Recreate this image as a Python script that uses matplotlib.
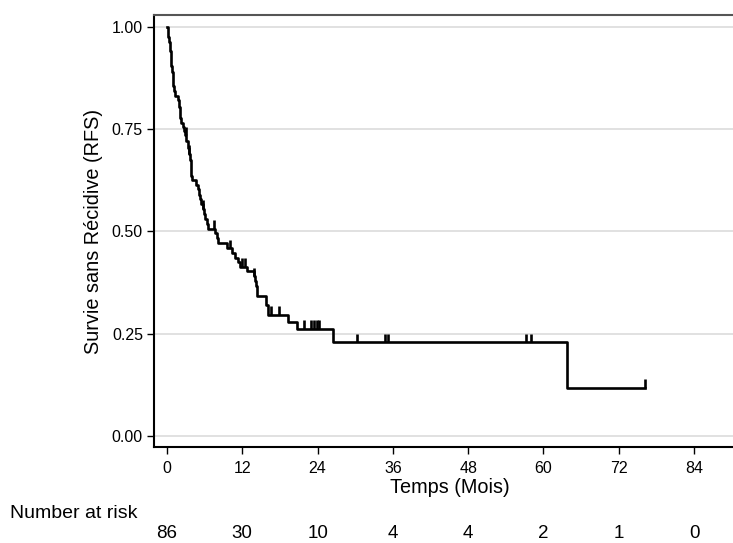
import matplotlib
matplotlib.use("Agg")
import matplotlib.pyplot as plt
import matplotlib.transforms as mtransforms

plt.rcParams['font.family'] = ['Liberation Sans', 'DejaVu Sans']

# Kaplan-Meier step curve (time in months, survival after that time)
step_times = [0, 0.2, 0.35, 0.5, 0.6, 0.7, 0.8, 0.9, 1.0, 1.1, 1.25, 1.7, 1.85, 2.0,
              2.15, 2.3, 2.5, 2.7, 2.9, 3.1, 3.3, 3.45, 3.6, 3.75, 3.9, 4.0, 4.7, 4.9,
              5.1, 5.3, 5.5, 5.7, 5.9, 6.1, 6.4, 6.6, 7.6, 7.9, 8.2, 9.6, 10.3, 10.8,
              11.3, 11.7, 12.8, 13.9, 14.1, 14.2, 14.3, 14.4, 15.8, 16.1, 19.3, 20.8,
              26.5, 63.7, 76.2]
step_surv = [1.0, 0.975, 0.963, 0.94, 0.925, 0.905, 0.89, 0.87, 0.855, 0.843, 0.83, 0.82,
             0.805, 0.79, 0.778, 0.765, 0.755, 0.745, 0.735, 0.72, 0.705, 0.69, 0.675,
             0.655, 0.635, 0.626, 0.614, 0.603, 0.59, 0.578, 0.566, 0.555, 0.543, 0.531,
             0.519, 0.507, 0.495, 0.483, 0.471, 0.459, 0.447, 0.435, 0.424, 0.414, 0.402,
             0.39, 0.378, 0.366, 0.354, 0.342, 0.32, 0.296, 0.278, 0.262, 0.229, 0.117,
             0.117]

# censored observation times
censor_times = [3.0, 3.5, 5.8, 7.5, 10.0, 11.9, 12.4, 13.9, 16.6, 17.9, 21.8, 22.9,
                23.5, 23.9, 24.3, 30.3, 34.8, 35.2, 57.3, 58.0, 76.2]

# number at risk table
risk_times = [0, 12, 24, 36, 48, 60, 72, 84]
risk_counts = [86, 30, 10, 4, 4, 2, 1, 0]

y_ticks = [0.0, 0.25, 0.5, 0.75, 1.0]
y_ticklabels = ["0.00", "0.25", "0.50", "0.75", "1.00"]


def surv_at(t):
    s = step_surv[0]
    for tt, ss in zip(step_times, step_surv):
        if tt <= t:
            s = ss
        else:
            break
    return s


W, H = 733, 543
fig = plt.figure(figsize=(W / 100, H / 100), dpi=100)
ax = fig.add_axes([154 / W, (H - 447) / H, (745 - 154) / W, (447 - 15) / H])

ax.set_xlim(-2.07, (745 - 167) / 6.274)
ax.set_ylim(-0.027, 1.029)

for y in y_ticks:
    ax.axhline(y, color='#dcdcdc', lw=1.2, zorder=0)

ax.step(step_times, step_surv, where='post', color='black', lw=1.9, zorder=3)
cs = [surv_at(t) for t in censor_times]
ax.vlines(censor_times, cs, [c + 0.021 for c in cs], color='black', lw=1.9, zorder=3)

ax.set_xticks(risk_times)
ax.set_xticklabels([str(t) for t in risk_times], fontsize=11.5)
ax.set_yticks(y_ticks)
ax.set_yticklabels(y_ticklabels, fontsize=11.5)
ax.tick_params(axis='both', direction='out', length=5, width=1, color='black')
ax.tick_params(axis='x', pad=5)
ax.tick_params(axis='y', pad=3)

for side in ['left', 'bottom']:
    ax.spines[side].set_color('black')
    ax.spines[side].set_linewidth(1.5)
ax.spines['top'].set_color('#555555')
ax.spines['top'].set_linewidth(1.5)
ax.spines['right'].set_visible(False)

ax.set_xlabel("Temps (Mois)", fontsize=14.3)
ax.xaxis.set_label_coords((450 - 154) / (745 - 154), (447 - 478) / 432)
ax.set_ylabel("Survie sans Récidive (RFS)", fontsize=14.3)
ax.yaxis.set_label_coords((103 - 154) / (745 - 154), 0.5)

fig.text(10 / W, 1 - 513 / H, "Number at risk", fontsize=14, ha='left', va='center')
trans = mtransforms.blended_transform_factory(ax.transData, fig.transFigure)
for t, n in zip(risk_times, risk_counts):
    ax.text(t, 1 - 534 / H, str(n), transform=trans, fontsize=13.5,
            ha='center', va='center', clip_on=False)

fig.savefig("out.png", dpi=100)
